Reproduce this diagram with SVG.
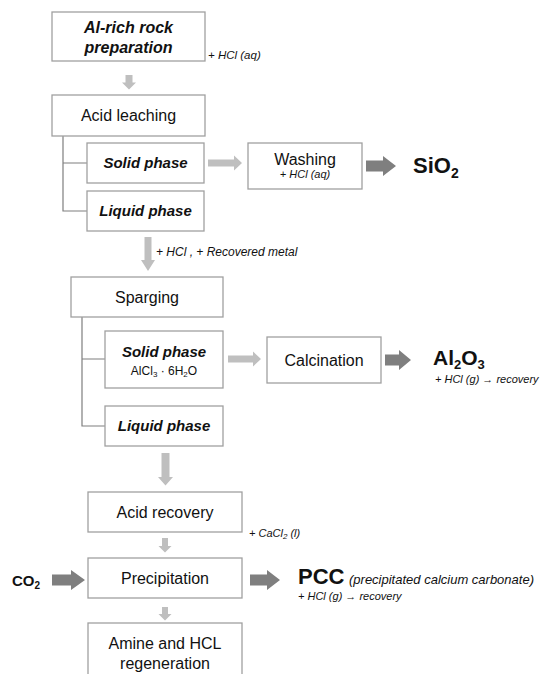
<svg xmlns="http://www.w3.org/2000/svg" width="549" height="674" viewBox="0 0 549 674">
<style>
.box{fill:#fff;stroke:#a0a0a0;stroke-width:1.3}
.br{fill:none;stroke:#7f7f7f;stroke-width:1.2}
.la{fill:#bfbfbf}
.da{fill:#7f7f7f}
text{font-family:"Liberation Sans",Arial,sans-serif;fill:#111}
.t{font-size:16px;text-anchor:middle}
.bi{font-size:15px;font-weight:bold;font-style:italic;text-anchor:middle}
.lb{font-size:11.5px;font-style:italic}
.big{font-weight:bold}
</style>
<rect width="549" height="674" fill="#fff"/>
<g id="connectors">
<path class="br" d="M63 136V211H87M63 163H87"/>
<path class="br" d="M82 317V426H105M82 359H105"/>
<path class="la" d="M125.5 75H132.5V82.5H136L129 89.5L122 82.5H125.5Z"/>
<path class="la" d="M208 159.5H234V155.5L242 163L234 170.5V166.5H208Z"/>
<path class="da" d="M366 160.5H383V156L396 166L383 176V171.5H366Z"/>
<path class="la" d="M144.5 237H151.5V260H155L148 271L141 260H144.5Z"/>
<path class="la" d="M228 355.5H253V351.5L261 359L253 366.5V362.5H228Z"/>
<path class="da" d="M385 354.5H399V350L411 360L399 370V365.5H385Z"/>
<path class="la" d="M161.5 453H169.5V477H173L165.5 485.5L158 477H161.5Z"/>
<path class="la" d="M162 538H168V546H171.5L165 552.5L158.5 546H162Z"/>
<path class="da" d="M52 574.5H71V570L85 580L71 590V585.5H52Z"/>
<path class="da" d="M250 574.5H267V570L280 580L267 590V585.5H250Z"/>
<path class="la" d="M162 607H168V614H171.5L165 620.5L158.5 614H162Z"/>
</g>
<g id="n-rock"><rect class="box" x="52" y="12" width="153" height="49"/>
<text class="bi" x="128.5" y="33" style="font-size:16px">Al-rich rock</text>
<text class="bi" x="128.5" y="53" style="font-size:16px">preparation</text></g>
<text class="lb" x="208" y="58.5">+ HCl (aq)</text>
<g id="n-leach"><rect class="box" x="52" y="95" width="153" height="41"/>
<text class="t" x="128.5" y="121">Acid leaching</text></g>
<g id="n-solid1"><rect class="box" x="87" y="143" width="117" height="40"/>
<text class="bi" x="145.5" y="168">Solid phase</text></g>
<g id="n-liquid1"><rect class="box" x="87" y="191" width="117" height="40"/>
<text class="bi" x="145.5" y="216">Liquid phase</text></g>
<g id="n-wash"><rect class="box" x="248" y="143" width="114" height="46"/>
<text class="t" x="305" y="165">Washing</text>
<text class="lb" x="305" y="178" text-anchor="middle" style="font-size:11px">+ HCl (aq)</text></g>
<g id="n-sio2"><text class="big" x="413" y="173" style="font-size:22px">SiO<tspan dy="5" style="font-size:14px">2</tspan></text></g>
<text class="lb" x="156" y="255.5" style="font-size:12px">+ HCl , + Recovered metal</text>
<g id="n-sparg"><rect class="box" x="71" y="277" width="152" height="40"/>
<text class="t" x="147" y="303">Sparging</text></g>
<g id="n-solid2"><rect class="box" x="105" y="331" width="118" height="57"/>
<text class="bi" x="164" y="357">Solid phase</text>
<text x="164" y="374.5" text-anchor="middle" style="font-size:12px">AlCl<tspan dy="2" style="font-size:8px">3</tspan><tspan dy="-2">  · 6H</tspan><tspan dy="2" style="font-size:8px">2</tspan><tspan dy="-2">O</tspan></text></g>
<g id="n-liquid2"><rect class="box" x="105" y="406" width="118" height="40"/>
<text class="bi" x="164" y="431">Liquid phase</text></g>
<g id="n-calc"><rect class="box" x="267" y="337" width="114" height="46"/>
<text class="t" x="324" y="366">Calcination</text></g>
<g id="n-al2o3"><text class="big" x="433" y="365" style="font-size:21px">Al<tspan dy="3.5" style="font-size:13px">2</tspan><tspan dy="-3.5">O</tspan><tspan dy="3.5" style="font-size:13px">3</tspan></text>
<text class="lb" x="435" y="383" style="font-size:11px">+ HCl (g) → recovery</text></g>
<g id="n-acid"><rect class="box" x="88" y="492" width="154" height="40"/>
<text class="t" x="165" y="518">Acid recovery</text></g>
<text class="lb" x="249" y="537" style="font-size:11px">+ CaCl<tspan dy="2" style="font-size:8px">2</tspan><tspan dy="-2"> (l)</tspan></text>
<g id="n-co2"><text class="big" x="12" y="586" style="font-size:15px">CO<tspan dy="3" style="font-size:10px">2</tspan></text></g>
<g id="n-precip"><rect class="box" x="88" y="558" width="154" height="40"/>
<text class="t" x="165" y="584">Precipitation</text></g>
<g id="n-pcc"><text class="big" x="298" y="584" style="font-size:22px">PCC</text>
<text class="lb" x="349" y="584" style="font-size:13px">(precipitated calcium carbonate)</text>
<text class="lb" x="298" y="600" style="font-size:11px">+ HCl (g) → recovery</text></g>
<g id="n-amine"><rect class="box" x="88" y="623" width="154" height="60"/>
<text class="t" x="165" y="649">Amine and HCL</text>
<text class="t" x="165" y="669">regeneration</text></g>
</svg>
